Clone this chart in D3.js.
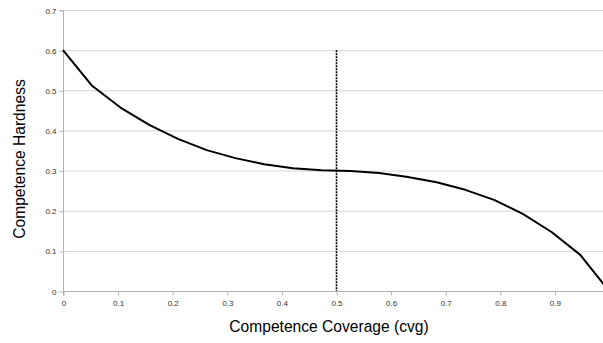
<!DOCTYPE html>
<html>
<head>
<meta charset="utf-8">
<script src="https://cdn.jsdelivr.net/npm/d3@7"></script>
<style>
  body { margin: 0; background: #fff; }
  svg { display: block; font-family: "Liberation Sans", Arial, sans-serif; }
</style>
</head>
<body>
<svg id="chart"></svg>
<script>
const cvg = d3.range(20).map(i => i / 19);
const hardness = [0.600, 0.512, 0.457, 0.414, 0.379, 0.351, 0.331, 0.316, 0.306, 0.301,
                  0.299, 0.294, 0.284, 0.271, 0.252, 0.227, 0.192, 0.147, 0.090, 0.000];
const xTicks = [0, 0.1, 0.2, 0.3, 0.4, 0.5, 0.6, 0.7, 0.8, 0.9];
const yTicks = [0, 0.1, 0.2, 0.3, 0.4, 0.5, 0.6, 0.7];
const threshold = 0.5;
const thresholdTop = 0.6;

const W = 603, H = 343;
const svg = d3.select("#chart").attr("width", W).attr("height", H);

const x = d3.scaleLinear().domain([0, 1]).range([63, 609]);
const y = d3.scaleLinear().domain([0, 0.7]).range([291, 10]);

// horizontal gridlines
svg.append("g")
  .selectAll("line")
  .data(yTicks.slice(1))
  .join("line")
  .attr("x1", x(0)).attr("x2", W)
  .attr("y1", d => y(d) + 0.5).attr("y2", d => y(d) + 0.5)
  .attr("stroke", "#d4d4d4")
  .attr("stroke-width", 1);

// y axis
const yAxis = svg.append("g")
  .attr("transform", `translate(${x(0) + 0.5},0.5)`)
  .call(d3.axisLeft(y).tickValues(yTicks).tickFormat(d3.format("")).tickSize(4).tickPadding(3));
// x axis
const xAxis = svg.append("g")
  .attr("transform", `translate(0.5,${y(0) + 0.5})`)
  .call(d3.axisBottom(x).tickValues(xTicks).tickFormat(d3.format("")).tickSize(4).tickPadding(5));

[yAxis, xAxis].forEach(a => {
  a.select(".domain").attr("stroke", "#b3b3b3");
  a.selectAll(".tick line").attr("stroke", "#b3b3b3");
  a.selectAll(".tick text")
    .attr("fill", "#333")
    .style("font-size", "8px")
    .style("font-family", "'Liberation Sans', Arial, sans-serif");
});
xAxis.select(".domain").attr("d", `M${x(0)},4V0H${W}`);
yAxis.select(".domain").attr("d", `M-4,${y(0.7)}H0V${y(0)}`);

// threshold line
svg.append("line")
  .attr("x1", x(threshold) + 0.5).attr("x2", x(threshold) + 0.5)
  .attr("y1", y(thresholdTop)).attr("y2", y(0))
  .attr("stroke", "#000")
  .attr("stroke-width", 1.6)
  .attr("stroke-dasharray", "2,1");

// curve
svg.append("path")
  .datum(cvg.map((c, i) => [c, hardness[i]]))
  .attr("fill", "none")
  .attr("stroke", "#000")
  .attr("stroke-width", 2)
  .attr("stroke-linejoin", "round")
  .attr("d", d3.line().x(d => x(d[0])).y(d => y(d[1])));

// axis titles
svg.append("text")
  .attr("x", 329).attr("y", 332)
  .attr("text-anchor", "middle")
  .style("font-size", "15.6px")
  .attr("fill", "#000")
  .text("Competence Coverage (cvg)");

svg.append("text")
  .attr("transform", `translate(25,159) rotate(-90)`)
  .attr("text-anchor", "middle")
  .style("font-size", "15.6px")
  .attr("fill", "#000")
  .text("Competence Hardness");
</script>
</body>
</html>
